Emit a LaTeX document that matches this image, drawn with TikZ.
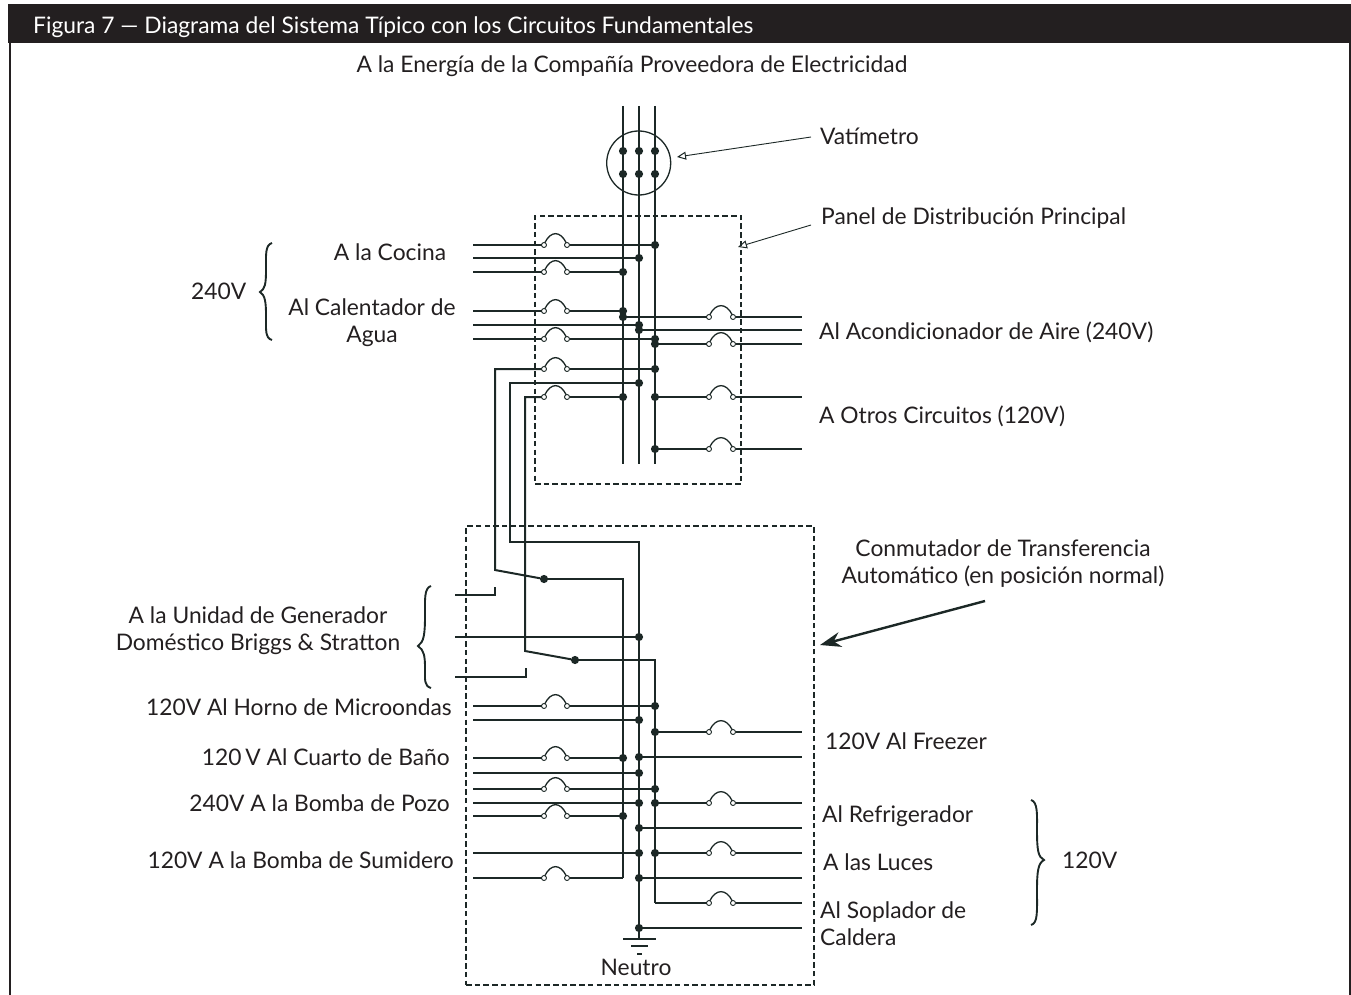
\documentclass[tikz,border=0pt]{standalone}
\usepackage{fontspec}
\setmainfont{Lato}
\usetikzlibrary{arrows.meta}
\definecolor{ink}{HTML}{1C2826}
\definecolor{txt}{HTML}{231F20}
\tikzset{
  wire/.style={draw=ink,line width=2pt,line join=miter},
  arch/.style={draw=ink,line width=1.3pt},
  jdot/.style={circle,fill=ink,inner sep=0pt,outer sep=0pt,minimum size=8.2pt},
  term/.style={circle,draw=ink,fill=white,line width=.9pt,inner sep=0pt,outer sep=0pt,minimum size=5pt},
  dbox/.style={draw=ink,line width=1.6pt,dash pattern=on 5.5pt off 3.2pt,inner sep=0pt,outer sep=0pt},
  lbl/.style={font=\fontsize{22.8}{27}\selectfont,text=txt,inner sep=0pt,text height=21pt,text depth=4pt},
  pointer/.style={draw=ink,line width=.9pt,-{Triangle[open,length=9pt,width=8pt,line width=1pt]}},
  bigpointer/.style={draw=ink,line width=2.4pt,-{Stealth[length=21pt,width=15pt]}},
  bracepath/.style={draw=ink,line width=1.9pt},
}
% fuse: name, left x, right x, y
\newcommand\fusem[4]{%
  \node[term] (#1a) at (#2,#4) {};
  \node[term] (#1b) at (#3,#4) {};
  \draw[arch] (#1a.70) .. controls +(6,-12) and +(-6,-12) .. (#1b.110);}
% plain left row: name, y, bus x
\newcommand\lrow[3]{%
  \coordinate (#1l) at (473,#2);
  \node[jdot] (#1d) at (#3,#2) {};
  \draw[wire] (#1l) -- (#1d);}
% fused left row
\newcommand\lfuse[3]{%
  \coordinate (#1l) at (473,#2);
  \node[jdot] (#1d) at (#3,#2) {};
  \fusem{#1f}{544}{567}{#2}
  \draw[wire] (#1l) -- (#1fa);
  \draw[wire] (#1fb) -- (#1d);}
% plain right row
\newcommand\rrow[3]{%
  \coordinate (#1r) at (802,#2);
  \node[jdot] (#1d) at (#3,#2) {};
  \draw[wire] (#1d) -- (#1r);}
% fused right row
\newcommand\rfuse[3]{%
  \coordinate (#1r) at (802,#2);
  \node[jdot] (#1d) at (#3,#2) {};
  \fusem{#1f}{709}{733}{#2}
  \draw[wire] (#1d) -- (#1fa);
  \draw[wire] (#1fb) -- (#1r);}
\begin{document}
\begin{tikzpicture}[x=1pt,y=-1pt]
\useasboundingbox (0,0) rectangle (1351,995);
% frame
\coordinate (fl0) at (10,40); \coordinate (fl1) at (10,995);
\coordinate (fr0) at (1349.8,40); \coordinate (fr1) at (1349.8,995);
\draw[txt,line width=2pt] (fl0) -- (fl1);
\draw[txt,line width=2pt] (fr0) -- (fr1);
\node[fill=txt,anchor=north west,minimum width=1343pt,minimum height=39pt,inner sep=0pt,outer sep=0pt] (bar) at (8,4) {};
\node[lbl,text=white,anchor=west] (title) at (33,25) {Figura 7 — Diagrama del Sistema Típico con los Circuitos Fundamentales};
% dashed boxes
\node[dbox,anchor=north west,minimum width=206pt,minimum height=268pt] (panel) at (535,216) {};
\node[dbox,anchor=north west,minimum width=348pt,minimum height=459pt] (ats) at (466,526) {};
% top buses
\coordinate (a1) at (623,106); \coordinate (a2) at (623,464);
\coordinate (b1) at (639,106); \coordinate (b2) at (639,464);
\coordinate (c1) at (655,106); \coordinate (c2) at (655,464);
\draw[wire] (a1) -- (a2);
\draw[wire] (b1) -- (b2);
\draw[wire] (c1) -- (c2);
% meter
\node[circle,draw=ink,line width=1.3pt,minimum size=64pt,inner sep=0pt,outer sep=0pt] (meter) at (638.7,163) {};
\node[jdot] (m1) at (623,151) {}; \node[jdot] (m2) at (639,151) {}; \node[jdot] (m3) at (655,151) {};
\node[jdot] (m4) at (623,174) {}; \node[jdot] (m5) at (639,174) {}; \node[jdot] (m6) at (655,174) {};
% upper left rows
\lfuse{ua}{245}{655}
\lrow{ub}{258}{639}
\lfuse{uc}{272}{623}
\lfuse{ud}{311}{623}
\lrow{ue}{325}{639}
\lfuse{uf}{339}{655}
% upper right rows
\rfuse{ra}{317}{623}
\rrow{rb}{330}{639}
\rfuse{rc}{344}{655}
\rfuse{rd}{397}{655}
\rfuse{re}{449}{655}
% feeders to transfer switch
\node[jdot] (g1d) at (655,369) {};
\fusem{g1f}{544}{567}{369}
\node[jdot] (g2d) at (639,383) {};
\node[jdot] (g3d) at (623,397) {};
\fusem{g3f}{544}{567}{397}
\node[jdot] (sw1) at (544,579) {};
\node[jdot] (sw2) at (575,660) {};
\node[jdot] (hb) at (639,637) {};
\coordinate (g1c) at (495,369); \coordinate (g1e) at (495,570);
\coordinate (g2c) at (510,383); \coordinate (g2e) at (510,542);
\coordinate (g3c) at (525,397); \coordinate (g3e) at (525,651);
\coordinate (n1) at (639,542); \coordinate (n2) at (639,939);
\coordinate (h1) at (623,579); \coordinate (h2) at (623,878);
\coordinate (k1) at (655,660); \coordinate (k2) at (655,903);
\draw[wire] (g1d) -- (g1fb);
\draw[wire] (g1fa) -- (g1c) -- (g1e) -- (sw1);
\draw[wire] (g2d) -- (g2c) -- (g2e) -- (n1) -- (n2);
\draw[wire] (g3d) -- (g3fb);
\draw[wire] (g3fa) -- (g3c) -- (g3e) -- (sw2);
\draw[wire] (sw1) -- (h1) -- (h2);
\draw[wire] (sw2) -- (k1) -- (k2);
% generator stubs
\coordinate (s1a) at (455,595); \coordinate (s1b) at (495,595); \coordinate (s1c) at (495,587);
\coordinate (s3a) at (455,677); \coordinate (s3b) at (526,677); \coordinate (s3c) at (526,668);
\coordinate (s2a) at (455,637);
\draw[wire] (s1a) -- (s1b) -- (s1c);
\draw[wire] (s2a) -- (hb);
\draw[wire] (s3a) -- (s3b) -- (s3c);
% lower left rows
\lfuse{la}{706}{655}
\lrow{lb}{720}{639}
\lfuse{lc}{758}{623}
\lrow{ld}{773}{639}
\lfuse{le}{789}{655}
\lrow{lf}{803}{639}
\lfuse{lg}{816}{623}
\lrow{lh}{853}{639}
\fusem{lif}{544}{567}{878}
\coordinate (lil) at (473,878);
\draw[wire] (lil) -- (lifa);
\draw[wire] (lifb) -- (h2);
% lower right rows
\rfuse{qa}{732}{655}
\rrow{qb}{757}{639}
\rfuse{qc}{803}{655}
\rrow{qd}{828}{639}
\rfuse{qe}{853}{655}
\rrow{qf}{878}{639}
\fusem{qgf}{709}{733}{903}
\coordinate (qgr) at (802,903);
\draw[wire] (k2) -- (qgfa);
\draw[wire] (qgfb) -- (qgr);
\rrow{qh}{928}{639}
% ground
\coordinate (e1a) at (623,939); \coordinate (e1b) at (656,939);
\coordinate (e2a) at (631,946); \coordinate (e2b) at (648,946);
\coordinate (e3a) at (637,954); \coordinate (e3b) at (642,954);
\draw[wire] (e1a) -- (e1b);
\draw[wire] (e2a) -- (e2b);
\draw[wire] (e3a) -- (e3b);
% labels
\node[lbl] (top) at (632,64) {A la Energía de la Compañía Proveedora de Electricidad};
\node[lbl,anchor=west] (vat) at (820,136) {Vatímetro};
\node[lbl,anchor=west] (pan) at (821,216) {Panel de Distribución Principal};
\node[lbl] (coc) at (390,252) {A la Cocina};
\node[lbl,anchor=west] (v240) at (191,291) {240V};
\node[lbl] (cal1) at (372,307) {Al Calentador de};
\node[lbl] (cal2) at (372,334) {Agua};
\node[lbl,anchor=west] (aac) at (819,331) {Al Acondicionador de Aire (240V)};
\node[lbl,anchor=west] (otr) at (819,415) {A Otros Circuitos (120V)};
\node[lbl] (con1) at (1003,548) {Conmutador de Transferencia};
\node[lbl] (con2) at (1003,575) {Automático (en posición normal)};
\node[lbl] (gen1) at (258,615) {A la Unidad de Generador};
\node[lbl] (gen2) at (258,642) {Doméstico Briggs \& Stratton};
\node[lbl,anchor=east] (hor) at (452,707) {120V Al Horno de Microondas};
\node[lbl,anchor=east] (bano) at (450,757) {120\,V Al Cuarto de Baño};
\node[lbl,anchor=east] (poz) at (450,803) {240V A la Bomba de Pozo};
\node[lbl,anchor=east] (sum) at (454,860) {120V A la Bomba de Sumidero};
\node[lbl,anchor=west] (fre) at (825,741) {120V Al Freezer};
\node[lbl,anchor=west] (ref) at (822,814) {Al Refrigerador};
\node[lbl,anchor=west] (luc) at (823,862) {A las Luces};
\node[lbl,anchor=west] (sop1) at (820,910) {Al Soplador de};
\node[lbl,anchor=west] (sop2) at (820,937) {Caldera};
\node[lbl,anchor=west] (v120) at (1062,860) {120V};
\node[lbl] (neu) at (636,967) {Neutro};
% pointers
\coordinate (pv0) at (811,137); \coordinate (pv1) at (677,157);
\coordinate (pp0) at (811,225); \coordinate (pp1) at (738,247);
\coordinate (pa0) at (985,601); \coordinate (pa1) at (820,645);
\draw[pointer] (pv0) -- (pv1);
\draw[pointer] (pp0) -- (pp1);
\draw[bigpointer] (pa0) -- (pa1);
% braces
\draw[bracepath] (272,243) .. controls (265,245) and (266,255) .. (266,270) .. controls (266,284) and (265,289) .. (260,292) .. controls (265,295) and (266,302) .. (266,315) .. controls (266,330) and (265,338) .. (272,340);
\draw[bracepath] (431,586) .. controls (424,588) and (425,600) .. (425,615) .. controls (425,634) and (424,642) .. (418,646) .. controls (424,650) and (425,656) .. (425,668) .. controls (425,680) and (424,686) .. (431,688);
\draw[bracepath] (1031,800) .. controls (1038,802) and (1037,815) .. (1037,830) .. controls (1037,850) and (1038,857) .. (1044,860) .. controls (1038,863) and (1037,872) .. (1037,890) .. controls (1037,912) and (1038,923) .. (1031,925);
\end{tikzpicture}
\end{document}
